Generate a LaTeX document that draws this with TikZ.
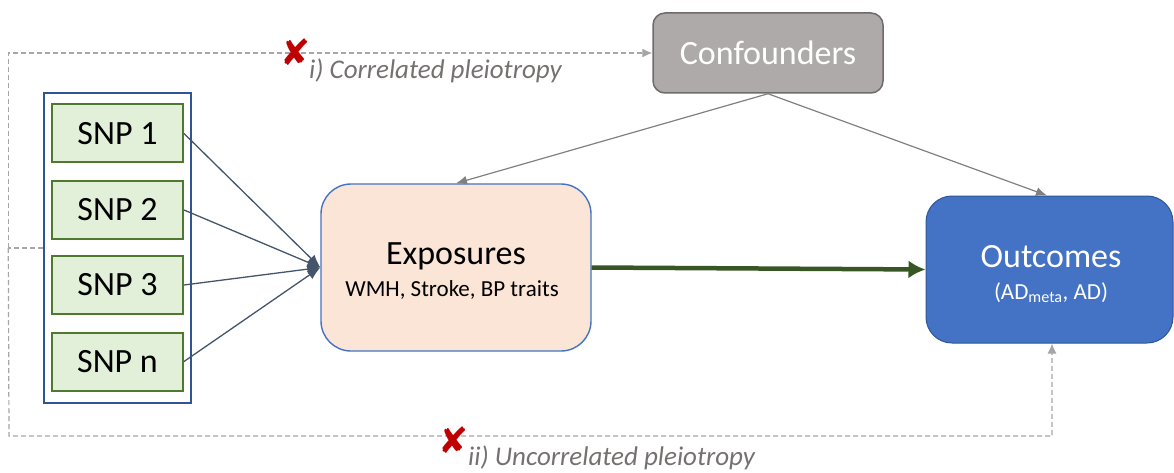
\documentclass[tikz,border=0pt]{standalone}
\usepackage{fontspec}
\setmainfont{Carlito}
\newfontfamily\djv{DejaVu Sans}
\usetikzlibrary{arrows.meta}
\definecolor{confill}{HTML}{AEAAAA}
\definecolor{condraw}{HTML}{6F6B6B}
\definecolor{expfill}{HTML}{FBE5D6}
\definecolor{blueline}{HTML}{4472C4}
\definecolor{outfill}{HTML}{4472C4}
\definecolor{outdraw}{HTML}{2F5597}
\definecolor{snpfill}{HTML}{E2F0D9}
\definecolor{snpdraw}{HTML}{4E7A30}
\definecolor{contdraw}{HTML}{2F5597}
\definecolor{dashgray}{HTML}{A6A6A6}
\definecolor{arrgray}{HTML}{808080}
\definecolor{slate}{HTML}{44546A}
\definecolor{darkgreen}{HTML}{375623}
\definecolor{labgray}{HTML}{767171}
\definecolor{xred}{HTML}{C00000}
\tikzset{
  big/.style={font=\fontsize{34}{40}\selectfont},
  small/.style={font=\fontsize{23}{28}\selectfont},
  confbox/.style={draw=condraw, fill=confill, line width=1.5pt, rounded corners=12pt,
    minimum width=230pt, minimum height=80pt, inner sep=0pt, text=white, big},
  expbox/.style={draw=blueline, fill=expfill, line width=1.4pt, rounded corners=30pt,
    minimum width=270pt, minimum height=167pt, inner sep=0pt},
  outbox/.style={draw=outdraw, fill=outfill, line width=1pt, rounded corners=26pt,
    minimum width=247pt, minimum height=147pt, inner sep=0pt},
  snpbox/.style={draw=snpdraw, fill=snpfill, line width=2pt,
    minimum width=131pt, minimum height=58pt, inner sep=0pt, big},
  contbox/.style={draw=contdraw, fill=white, line width=1.4pt,
    minimum width=147pt, minimum height=310pt, inner sep=0pt},
  dashline/.style={draw=dashgray, line width=1.2pt, dash pattern=on 5pt off 3pt},
  dashtip/.style={-{Latex[length=10pt,width=9pt]}},
  grayarrow/.style={draw=arrgray, line width=1.2pt, -{Latex[length=11pt,width=9pt]}},
  snpline/.style={draw=slate, line width=1.3pt, -{Latex[length=13pt,width=10pt]}},
  mainarrow/.style={draw=darkgreen, line width=4.5pt, -{Latex[length=17pt,width=18pt]}},
  crossmark/.style={text=xred, font=\djv\fontsize{36}{36}\selectfont, inner sep=0pt},
  pleiolabel/.style={text=labgray, font=\fontsize{27}{30}\selectfont\itshape, inner sep=0pt},
}
\begin{document}
\begin{tikzpicture}[x=1pt,y=-1pt]
\useasboundingbox (0,0) rectangle (1174,473);

% boxes
\node[confbox] (conf) at (768,53) {Confounders};
\node[expbox] (exp) at (456,267.5) {};
\node[outbox] (out) at (1049.5,269.5) {};
\node[contbox] (snps) at (117.5,248) {};
\node[snpbox] (s1) at (117.5,133.5) {SNP 1};
\node[snpbox] (s2) at (117.5,210) {SNP 2};
\node[snpbox] (s3) at (117.5,285) {SNP 3};
\node[snpbox] (sn) at (117.5,361.5) {SNP n};

% texts inside boxes
\node[big, anchor=base, inner sep=0pt] (exptitle) at (456,264) {Exposures};
\node[small, anchor=base, inner sep=0pt] (expsub) at (452,296) {WMH, Stroke, BP traits};
\node[big, anchor=base, inner sep=0pt, text=white] (outtitle) at (1051,267) {Outcomes};
\node[small, anchor=base, inner sep=0pt, text=white] (outsub) at (1051,299) {(AD\textsubscript{meta}, AD)};

% dashed pleiotropy paths
\draw[dashline] (snps.west) -- ++(-35,0) coordinate (L);
\coordinate (B) at (9,436);
\draw[dashline, dashtip] (L) |- (conf.west);
\draw[dashline, dashtip] (L) -- (B) -| ([xshift=2.5pt]out.south);

% confounder arrows
\draw[grayarrow] (conf.south) -- (exp.north);
\draw[grayarrow] (conf.south) -- ([xshift=-2.5pt]out.north);

% SNP arrows
\draw[snpline] (s1.east) -- (exp.west);
\draw[snpline] (s2.east) -- (exp.west);
\draw[snpline] (s3.east) -- (exp.west);
\draw[snpline] (sn.east) -- (exp.west);

% main effect
\draw[mainarrow] (exp.east) -- (out.west);

% labels
\node[crossmark] (x1) at (296,52) {✘};
\node[pleiolabel, anchor=base west] (lab1) at (309,79) {i) Correlated pleiotropy};
\node[crossmark] (x2) at (454,440) {✘};
\node[pleiolabel, anchor=base west] (lab2) at (468,465) {ii) Uncorrelated pleiotropy};
\end{tikzpicture}
\end{document}
